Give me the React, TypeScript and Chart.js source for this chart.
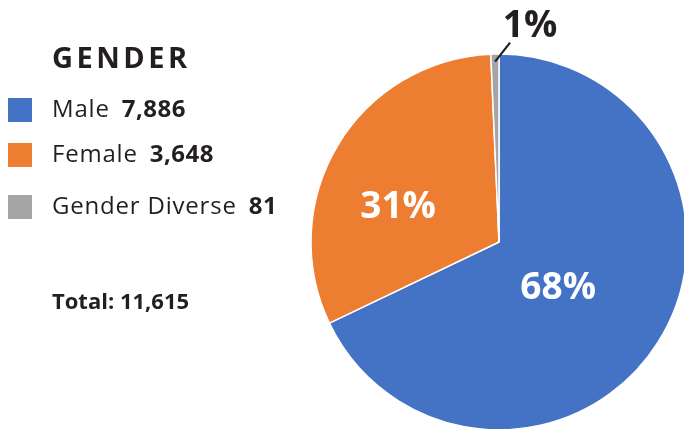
import React, { useEffect, useRef } from "react";
import { Chart, registerables } from "chart.js";

Chart.register(...registerables);

const title = "GENDER";
const categories = ["Male", "Female", "Gender Diverse"];
const counts = [7886, 3648, 81];
const colors = ["#4472C4", "#ED7D31", "#A5A5A5"];
const totalLabel = "Total:";

const FONT = "'Open Sans', sans-serif";
const DARK = "#231F20";

const fmt = (n: number) => n.toLocaleString("en-US");

const pieLabels = {
  id: "pieLabels",
  afterDatasetsDraw(chart: any, _args: any, opts: any) {
    const ctx = chart.ctx as CanvasRenderingContext2D;
    const meta = chart.getDatasetMeta(0);
    const data = chart.data.datasets[0].data as number[];
    const total = data.reduce((a, b) => a + b, 0);
    meta.data.forEach((arc: any, i: number) => {
      const { x, y, startAngle, endAngle, outerRadius } = arc.getProps(
        ["x", "y", "startAngle", "endAngle", "outerRadius"],
        true
      );
      const p = opts.placements[i];
      const pct = Math.round((data[i] / total) * 100) + "%";
      const ang = (startAngle + endAngle) / 2 + (p.delta * Math.PI) / 180;
      const fs = opts.fontSize;
      ctx.save();
      ctx.font = `bold ${fs}px ${FONT}`;
      ctx.textAlign = "center";
      ctx.textBaseline = "alphabetic";
      const px = x + Math.cos(ang) * outerRadius * p.frac;
      const py = y + Math.sin(ang) * outerRadius * p.frac;
      if (p.leader) {
        const ex = px + p.leader[0];
        const ey = py + p.leader[1];
        ctx.strokeStyle = DARK;
        ctx.lineWidth = 2.2;
        ctx.beginPath();
        ctx.moveTo(px, py);
        ctx.lineTo(ex, ey);
        ctx.stroke();
        ctx.fillStyle = DARK;
        ctx.fillText(pct, ex + p.text[0], ey + p.text[1]);
      } else {
        ctx.fillStyle = "#FFFFFF";
        ctx.fillText(pct, px, py + (fs * 0.714) / 2);
      }
      ctx.restore();
    });
  },
};

function PieChart() {
  const ref = useRef<HTMLCanvasElement | null>(null);
  useEffect(() => {
    if (!ref.current) return;
    const chart = new Chart(ref.current, {
      type: "pie",
      data: {
        labels: categories,
        datasets: [
          {
            data: counts,
            backgroundColor: colors,
            borderColor: "#FFFFFF",
            borderWidth: 1.5,
            radius: 188,
            clip: false,
          } as any,
        ],
      },
      options: {
        animation: false,
        responsive: false,
        maintainAspectRatio: false,
        layout: { padding: { left: 314, top: 55, right: 0, bottom: 0 } },
        plugins: {
          legend: { display: false },
          tooltip: { enabled: false },
          pieLabels: {
            fontSize: 37,
            placements: [
              { delta: 4, frac: 0.39 },
              { delta: -10.8, frac: 0.572 },
              { delta: 0, frac: 0.96, leader: [15, -19], text: [20, -6] },
            ],
          },
        } as any,
      },
      plugins: [pieLabels],
    });
    return () => chart.destroy();
  }, []);
  return (
    <canvas
      ref={ref}
      width={684}
      height={429}
      style={{ position: "absolute", left: 0, top: 0, width: 684, height: 429 }}
    />
  );
}

export default function App() {
  const total = counts.reduce((a, b) => a + b, 0);
  const rowTops = [98, 143, 195];
  return (
    <div
      style={{
        position: "fixed",
        left: 0,
        top: 0,
        width: 684,
        height: 429,
        overflow: "hidden",
        background: "#FFFFFF",
        fontFamily: FONT,
        color: DARK,
      }}
    >
      <PieChart />
      <div
        style={{
          position: "absolute",
          left: 52,
          top: 68 - 0.888 * 29,
          fontSize: 29,
          lineHeight: "29px",
          fontWeight: 700,
          letterSpacing: 3.5,
          whiteSpace: "nowrap",
        }}
      >
        {title}
      </div>
      {categories.map((c, i) => (
        <React.Fragment key={c}>
          <div
            style={{
              position: "absolute",
              left: 8,
              top: rowTops[i],
              width: 24,
              height: 24,
              background: colors[i],
            }}
          />
          <div
            style={{
              position: "absolute",
              left: 52,
              top: rowTops[i] + 19 - 0.888 * 24,
              fontSize: 24,
              lineHeight: "24px",
              whiteSpace: "nowrap",
              letterSpacing: 0.8,
            }}
          >
            <span>{c}</span>
            <span style={{ fontWeight: 700, marginLeft: 12, letterSpacing: 0.5 }}>
              {fmt(counts[i])}
            </span>
          </div>
        </React.Fragment>
      ))}
      <div
        style={{
          position: "absolute",
          left: 52,
          top: 309 - 0.888 * 22,
          fontSize: 22,
          lineHeight: "22px",
          fontWeight: 700,
          whiteSpace: "nowrap",
        }}
      >
        {totalLabel} {fmt(total)}
      </div>
    </div>
  );
}
